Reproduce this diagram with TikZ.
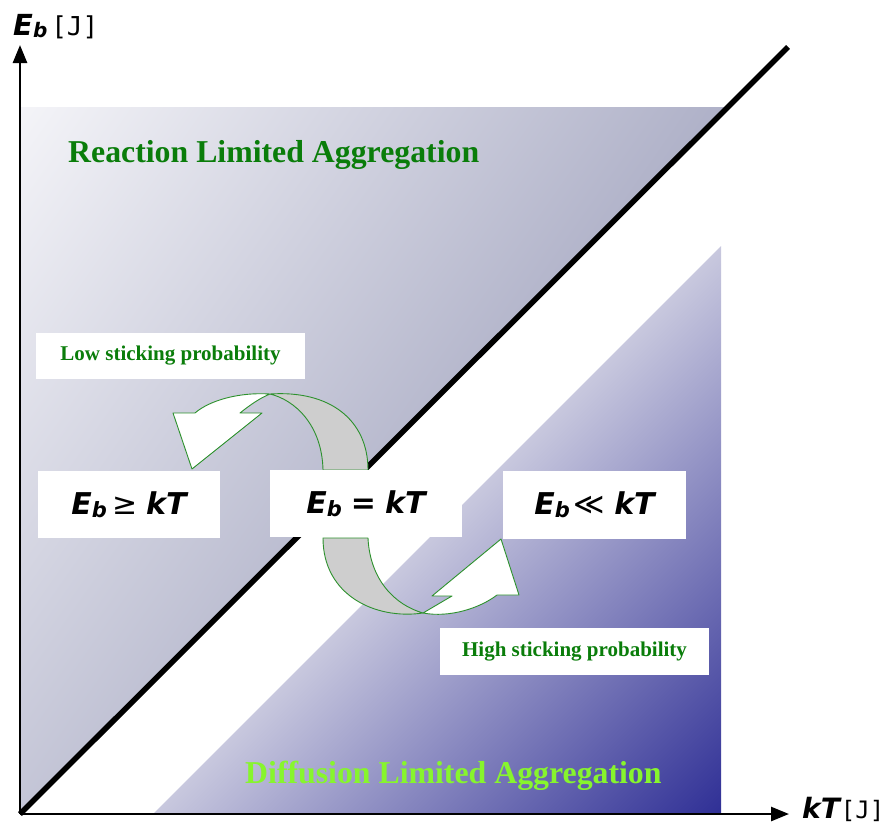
\documentclass[tikz,border=0pt]{standalone}
\usepackage{fontspec}
\setmainfont{Liberation Serif}
\newfontfamily\dv{DejaVu Sans}
\newfontfamily\dvmono{DejaVu Sans Mono}
\usetikzlibrary{arrows.meta}
\definecolor{ugA}{RGB}{244,244,248}
\definecolor{ugM}{RGB}{175,177,200}
\definecolor{lgM}{RGB}{200,200,222}
\definecolor{lgB}{RGB}{48,48,150}
\definecolor{darkgreen}{RGB}{10,125,10}
\definecolor{lightgreen}{RGB}{135,245,45}
\definecolor{arrowgreen}{RGB}{45,145,45}
\definecolor{ribbon}{RGB}{206,206,206}
\pgfdeclarehorizontalshading{upshade}{100bp}{color(0bp)=(ugA); color(15.2bp)=(ugA); color(56bp)=(ugM); color(100bp)=(ugM)}
\pgfdeclarehorizontalshading{lowshade}{100bp}{color(0bp)=(lgM); color(50bp)=(lgM); color(85.4bp)=(lgB); color(100bp)=(lgB)}
\newcommand{\Eterm}[3]{E\raisebox{#3}{\fontsize{#2}{#2}\selectfont b}}
\tikzset{
  whitebox/.style={fill=white, inner sep=0pt},
  boxlabel/.style={font=\dv\bfseries\itshape\fontsize{30}{30}\selectfont},
  sticktext/.style={text=darkgreen, font=\bfseries\fontsize{21}{21}\selectfont},
  ribbonpart/.style={fill=ribbon, draw=arrowgreen, line width=0.9pt, line join=round},
  arrowpart/.style={fill=white, draw=arrowgreen, line width=0.9pt, line join=round},
  axisline/.style={line width=2.6pt, -{Triangle[length=18pt,width=14pt]}},
}
\begin{document}
\begin{tikzpicture}[x=1pt,y=-1pt]
\useasboundingbox (0,0) rectangle (891,833);
% shaded regions
\shade[shading=upshade, shading angle=-35] (20,107) -- (727,107) -- (20,814) -- cycle;
\shade[shading=lowshade, shading angle=-45] (721,246) -- (721,813) -- (154,813) -- cycle;
% axes
\coordinate (O) at (20,814);
\coordinate (ytip) at (20,45);
\coordinate (xtip) at (789,814);
\coordinate (lineend) at (788,47);
\draw[axisline] (O) -- (ytip);
\draw[axisline] (O) -- (xtip);
\draw[line width=5.5pt] (O) -- (lineend);
% axis labels
\node[anchor=base west, inner sep=0pt] (ylab) at (13,35)
  {{\dv\bfseries\itshape\fontsize{29}{29}\selectfont\Eterm{}{20}{-2.5pt}}\hspace{4pt}{\dvmono\fontsize{26}{26}\selectfont[J]}};
\node[anchor=base west, inner sep=0pt] (xlab) at (802,818)
  {{\dv\bfseries\itshape\fontsize{28}{28}\selectfont kT}\hspace{1pt}{\dvmono\fontsize{24}{24}\selectfont[J]}};
% titles
\node[anchor=base west, inner sep=0pt, text=darkgreen, font=\bfseries\fontsize{31.8}{32}\selectfont] (rla) at (68,162) {Reaction Limited Aggregation};
\node[anchor=base west, inner sep=0pt, text=lightgreen, font=\bfseries\fontsize{31.8}{32}\selectfont] (dla) at (245,783) {Diffusion Limited Aggregation};
% upper curved arrow
\filldraw[ribbonpart] (323,470) -- (368,470) .. controls (368,420) and (330,390) .. (270,394)
   .. controls (295,400) and (322,425) .. cycle;
\filldraw[arrowpart] (270,394) .. controls (240,392) and (210,400) .. (195,413) -- (173,413) -- (192,469)
   -- (262,413) -- (240,413) .. controls (250,405) and (260,398) .. cycle;
% lower curved arrow
\filldraw[ribbonpart] (323,538) -- (368,538) .. controls (370,580) and (395,605) .. (423,613)
   .. controls (375,620) and (323,595) .. cycle;
\filldraw[arrowpart] (423,613) .. controls (435,606) and (445,600) .. (452,596) -- (432,596) -- (501,539)
   -- (519,595) -- (497,595) .. controls (480,608) and (450,618) .. cycle;
% boxes
\node[whitebox, minimum width=269pt, minimum height=46pt, sticktext] (low) at (170.5,356) {Low sticking probability};
\node[whitebox, minimum width=269pt, minimum height=47pt, sticktext] (high) at (574.5,651.5) {High sticking probability};
\node[whitebox, minimum width=182pt, minimum height=67pt, boxlabel] (ge) at (129,504.5)
  {\Eterm{}{21}{-3pt}\hspace{6pt}{\dv\mdseries\upshape ≥}\hspace{8pt}kT};
\node[whitebox, minimum width=192pt, minimum height=67pt, boxlabel] (eq) at (366,503.5)
  {\Eterm{}{21}{-3pt}\hspace{9pt}=\hspace{9pt}kT};
\node[whitebox, minimum width=183pt, minimum height=68pt, boxlabel] (ll) at (594.5,505)
  {\Eterm{}{21}{-3pt}\hspace{4pt}{\dv\mdseries\upshape ≪}\hspace{9pt}kT};
\end{tikzpicture}
\end{document}
